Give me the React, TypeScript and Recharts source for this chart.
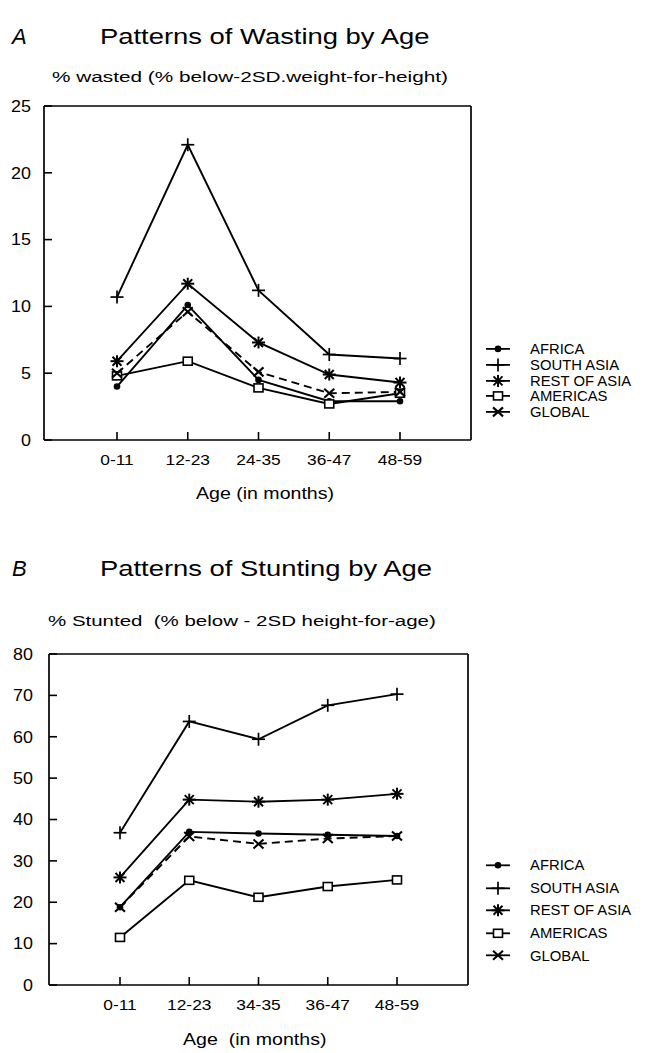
import React from 'react';
import { LineChart, Line, XAxis, YAxis, Legend } from 'recharts';

const FONT = '"Liberation Sans", Arial, Helvetica, sans-serif';

// ---------- data ----------
const AGES_WASTING = ['0-11', '12-23', '24-35', '36-47', '48-59'];
const AGES_STUNTING = ['0-11', '12-23', '34-35', '36-47', '48-59'];

const SERIES_NAMES = ['AFRICA', 'SOUTH ASIA', 'REST OF ASIA', 'AMERICAS', 'GLOBAL'];

const WASTING_AFRICA = [4.0, 10.1, 4.5, 2.9, 2.9];
const WASTING_SOUTH_ASIA = [10.7, 22.1, 11.2, 6.4, 6.1];
const WASTING_REST_OF_ASIA = [5.9, 11.7, 7.3, 4.9, 4.3];
const WASTING_AMERICAS = [4.8, 5.9, 3.9, 2.7, 3.5];
const WASTING_GLOBAL = [5.0, 9.6, 5.1, 3.5, 3.6];

const STUNTING_AFRICA = [18.8, 37.0, 36.6, 36.3, 36.0];
const STUNTING_SOUTH_ASIA = [36.8, 63.7, 59.4, 67.6, 70.3];
const STUNTING_REST_OF_ASIA = [26.0, 44.8, 44.3, 44.8, 46.2];
const STUNTING_AMERICAS = [11.5, 25.3, 21.2, 23.8, 25.4];
const STUNTING_GLOBAL = [18.8, 35.9, 34.1, 35.4, 36.0];

const WASTING_TICKS = [0, 5, 10, 15, 20, 25];
const STUNTING_TICKS = [0, 10, 20, 30, 40, 50, 60, 70, 80];

type MarkerKind = 'circle' | 'plus' | 'star' | 'square' | 'cross';
const SERIES_MARKERS: MarkerKind[] = ['circle', 'plus', 'star', 'square', 'cross'];
const SERIES_DASH = [undefined, undefined, undefined, undefined, '8 5'];

function buildRows(ages: string[], cols: number[][]) {
  return ages.map((age, i) => {
    const row: Record<string, string | number> = { age };
    SERIES_NAMES.forEach((n, k) => {
      row[n] = cols[k][i];
    });
    return row;
  });
}

const wastingData = buildRows(AGES_WASTING, [
  WASTING_AFRICA,
  WASTING_SOUTH_ASIA,
  WASTING_REST_OF_ASIA,
  WASTING_AMERICAS,
  WASTING_GLOBAL,
]);
const stuntingData = buildRows(AGES_STUNTING, [
  STUNTING_AFRICA,
  STUNTING_SOUTH_ASIA,
  STUNTING_REST_OF_ASIA,
  STUNTING_AMERICAS,
  STUNTING_GLOBAL,
]);

// ---------- markers ----------
function Marker({ cx, cy, kind }: { cx: number; cy: number; kind: MarkerKind }) {
  if (cx == null || cy == null) return null;
  switch (kind) {
    case 'circle':
      return <circle cx={cx} cy={cy} r={3.3} fill="#000" />;
    case 'plus':
      return (
        <g stroke="#000" strokeWidth={1.7}>
          <line x1={cx - 6.5} x2={cx + 6.5} y1={cy} y2={cy} />
          <line x1={cx} x2={cx} y1={cy - 6.5} y2={cy + 6.5} />
        </g>
      );
    case 'star':
      return (
        <g stroke="#000" strokeWidth={2}>
          <line x1={cx - 6.5} x2={cx + 6.5} y1={cy} y2={cy} />
          <line x1={cx} x2={cx} y1={cy - 6} y2={cy + 6} />
          <line x1={cx - 4.5} x2={cx + 4.5} y1={cy - 4.5} y2={cy + 4.5} />
          <line x1={cx - 4.5} x2={cx + 4.5} y1={cy + 4.5} y2={cy - 4.5} />
        </g>
      );
    case 'square':
      return <rect x={cx - 4.5} y={cy - 4} width={9} height={8} fill="#fff" stroke="#000" strokeWidth={1.6} />;
    case 'cross':
      return (
        <g stroke="#000" strokeWidth={2.1}>
          <line x1={cx - 5} x2={cx + 5} y1={cy - 4.5} y2={cy + 4.5} />
          <line x1={cx - 5} x2={cx + 5} y1={cy + 4.5} y2={cy - 4.5} />
        </g>
      );
  }
  return null;
}

// ---------- ticks ----------
function makeYTick(margin: number, fontSize: number) {
  return (props: any) => {
    const { x, y, payload } = props;
    const axisX = x + margin;
    return (
      <g>
        <line x1={axisX} x2={axisX + 8} y1={y} y2={y} stroke="#000" strokeWidth={1.6} />
        <text
          transform={`translate(${x},${y}) scale(1.12,1)`}
          textAnchor="end"
          dy="0.36em"
          fontSize={fontSize}
          fontFamily={FONT}
          fill="#000"
        >
          {payload.value}
        </text>
      </g>
    );
  };
}

function makeXTick(margin: number, fontSize: number) {
  return (props: any) => {
    const { x, y, payload } = props;
    const axisY = y - margin;
    return (
      <g>
        <line x1={x} x2={x} y1={axisY} y2={axisY - 8} stroke="#000" strokeWidth={1.6} />
        <text
          transform={`translate(${x},${y}) scale(1.12,1)`}
          textAnchor="middle"
          dy="0.72em"
          fontSize={fontSize}
          fontFamily={FONT}
          fill="#000"
        >
          {payload.value}
        </text>
      </g>
    );
  };
}

// ---------- legend ----------
function makeLegend(rowH: number) {
  return () => (
    <div style={{ fontFamily: FONT, fontSize: 14, color: '#000' }}>
      {SERIES_NAMES.map((n, i) => (
        <div key={n} style={{ display: 'flex', alignItems: 'center', height: rowH, whiteSpace: 'nowrap' }}>
          <svg width={28} height={rowH} style={{ display: 'block' }}>
            <line x1={2} x2={26} y1={rowH / 2} y2={rowH / 2} stroke="#000" strokeWidth={1.8} />
            <Marker cx={14} cy={rowH / 2} kind={SERIES_MARKERS[i]} />
          </svg>
          <span style={{ marginLeft: 18, display: 'inline-block', transform: 'scaleX(1.06)', transformOrigin: 'left' }}>
            {n}
          </span>
        </div>
      ))}
    </div>
  );
}

// ---------- chart ----------
type ChartProps = {
  data: Record<string, string | number>[];
  ticks: number[];
  width: number;
  height: number;
  margin: { top: number; right: number; bottom: number; left: number };
  yAxisWidth: number;
  xAxisHeight: number;
  padLeft: number;
  padRight: number;
  yTickMargin: number;
  legendTop: number;
  legendRow: number;
};

function AgeChart(p: ChartProps) {
  const yMax = p.ticks[p.ticks.length - 1];
  const frame = { stroke: '#000', strokeWidth: 1.7 };
  return (
    <LineChart width={p.width} height={p.height} data={p.data} margin={p.margin}>
      <XAxis
        dataKey="age"
        height={p.xAxisHeight}
        padding={{ left: p.padLeft, right: p.padRight }}
        axisLine={frame}
        tickLine={false}
        tickSize={0}
        tickMargin={14}
        interval={0}
        tick={makeXTick(14, 15.5)}
      />
      <XAxis
        xAxisId="top"
        orientation="top"
        dataKey="age"
        height={1}
        tick={false}
        tickLine={false}
        axisLine={frame}
      />
      <YAxis
        type="number"
        domain={[0, yMax]}
        ticks={p.ticks}
        width={p.yAxisWidth}
        axisLine={frame}
        tickLine={false}
        tickSize={0}
        tickMargin={p.yTickMargin}
        interval={0}
        tick={makeYTick(p.yTickMargin, 16)}
      />
      <YAxis
        yAxisId="right"
        orientation="right"
        type="number"
        domain={[0, yMax]}
        width={1}
        tick={false}
        tickLine={false}
        axisLine={frame}
      />
      {SERIES_NAMES.map((n, i) => (
        <Line
          key={n}
          dataKey={n}
          name={n}
          type="linear"
          stroke="#000"
          strokeWidth={1.9}
          strokeDasharray={SERIES_DASH[i]}
          isAnimationActive={false}
          activeDot={false}
          dot={(d: any) => <Marker key={`${n}-${d.index}`} cx={d.cx} cy={d.cy} kind={SERIES_MARKERS[i]} />}
        />
      ))}
      <Legend
        layout="vertical"
        align="center"
        verticalAlign="middle"
        content={makeLegend(p.legendRow)}
        wrapperStyle={{ left: 484, top: p.legendTop, width: 160 }}
      />
    </LineChart>
  );
}

const textBase: React.CSSProperties = {
  position: 'absolute',
  fontFamily: FONT,
  color: '#000',
  whiteSpace: 'nowrap',
  lineHeight: 1,
  transformOrigin: 'left center',
};

export default function App() {
  return (
    <div style={{ position: 'absolute', left: 0, top: 0, width: 647, height: 1053, background: '#fff', overflow: 'hidden' }}>
      {/* Panel A */}
      <div style={{ ...textBase, left: 12, top: 26, fontSize: 22, fontStyle: 'italic' }}>A</div>
      <div style={{ ...textBase, left: 100, top: 26, fontSize: 22, transform: 'scaleX(1.245)' }}>
        Patterns of Wasting by Age
      </div>
      <div style={{ ...textBase, left: 52, top: 69, fontSize: 15.5, transform: 'scaleX(1.34)' }}>
        % wasted (% below-2SD.weight-for-height)
      </div>
      <div style={{ position: 'absolute', left: 0, top: 0 }}>
        <AgeChart
          data={wastingData}
          ticks={WASTING_TICKS}
          width={647}
          height={527}
          margin={{ top: 105, right: 175, bottom: 27, left: 0 }}
          yAxisWidth={44}
          xAxisHeight={60}
          padLeft={73}
          padRight={71}
          yTickMargin={13}
          legendTop={341}
          legendRow={15.8}
        />
      </div>
      <div style={{ ...textBase, left: 196, top: 485, fontSize: 17, transform: 'scaleX(1.15)' }}>
        Age (in months)
      </div>

      {/* Panel B */}
      <div style={{ ...textBase, left: 12, top: 558, fontSize: 22, fontStyle: 'italic' }}>B</div>
      <div style={{ ...textBase, left: 100, top: 558, fontSize: 22, transform: 'scaleX(1.245)' }}>
        Patterns of Stunting by Age
      </div>
      <div style={{ ...textBase, left: 48, top: 613, fontSize: 15.5, transform: 'scaleX(1.32)' }}>
        % Stunted&nbsp;&nbsp;(% below - 2SD height-for-age)
      </div>
      <div style={{ position: 'absolute', left: 0, top: 527 }}>
        <AgeChart
          data={stuntingData}
          ticks={STUNTING_TICKS}
          width={647}
          height={526}
          margin={{ top: 126, right: 178, bottom: 18, left: 0 }}
          yAxisWidth={49}
          xAxisHeight={50}
          padLeft={71}
          padRight={71}
          yTickMargin={16}
          legendTop={327}
          legendRow={22.6}
        />
      </div>
      <div style={{ ...textBase, left: 183, top: 1031, fontSize: 17, transform: 'scaleX(1.15)' }}>
        Age&nbsp;&nbsp;(in months)
      </div>
    </div>
  );
}
